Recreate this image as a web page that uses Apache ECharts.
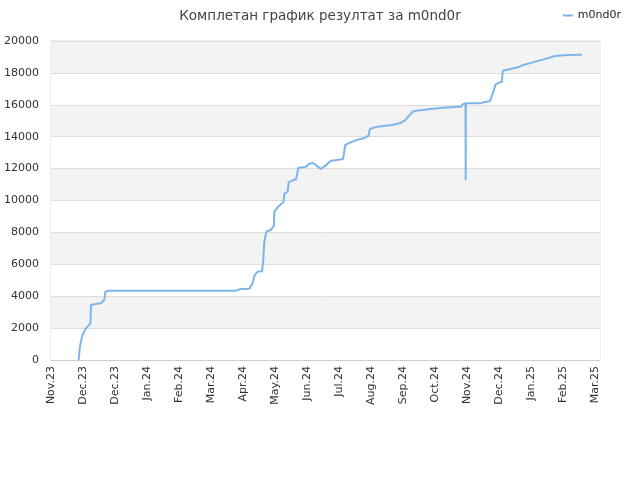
<!DOCTYPE html>
<html>
<head>
<meta charset="utf-8">
<script src="https://cdn.jsdelivr.net/npm/echarts@6/dist/echarts.min.js"></script>
<style>html,body{margin:0;padding:0;background:#fff}#c{width:640px;height:480px}</style>
</head>
<body>
<div id="c"></div>
<script>
var seriesName = 'm0nd0r';
var titleText = 'Комплетан график резултат за m0nd0r';
var monthNames = ['Jan','Feb','Mar','Apr','May','Jun','Jul','Aug','Sep','Oct','Nov','Dec'];
var axisStart = '2023-11-01';
var dates = [
 '2023-11-27','2023-11-28','2023-11-30','2023-12-02','2023-12-04','2023-12-08','2023-12-08 12:00',
 '2023-12-18','2023-12-21','2023-12-22','2023-12-25','2024-04-22','2024-04-27','2024-05-05',
 '2024-05-08','2024-05-10','2024-05-13','2024-05-17','2024-05-18','2024-05-19','2024-05-21','2024-05-25',
 '2024-05-28','2024-05-28 12:00','2024-06-01','2024-06-06','2024-06-07','2024-06-10','2024-06-11','2024-06-18',
 '2024-06-20','2024-06-27','2024-06-30','2024-07-04','2024-07-11','2024-07-15','2024-07-20','2024-08-01',
 '2024-08-03','2024-08-08','2024-08-14','2024-08-20','2024-08-25','2024-08-26','2024-09-02','2024-09-16',
 '2024-09-24','2024-09-28','2024-10-05','2024-10-08','2024-10-15','2024-10-22','2024-11-03','2024-11-14',
 '2024-11-20','2024-11-21','2024-11-23 20:00','2024-11-24','2024-11-24 04:00','2024-12-08','2024-12-10','2024-12-17',
 '2024-12-18','2024-12-20','2024-12-22','2024-12-25','2024-12-28','2024-12-28 12:00','2024-12-29','2025-01-05',
 '2025-01-12','2025-01-17','2025-01-26','2025-02-05','2025-02-16','2025-02-28','2025-03-13'
];
var scores = [
 0,800,1450,1770,2000,2300,3450,
 3570,3760,4280,4340,4340,4450,4460,
 4800,5300,5550,5570,6150,7350,8050,8150,
 8400,9300,9600,9900,10450,10550,11150,11350,
 12050,12100,12300,12350,11980,12150,12480,12600,
 13480,13650,13800,13900,14060,14480,14630,14730,
 14860,15020,15550,15630,15680,15740,15810,15860,
 15890,16030,16090,11280,16090,16090,16150,16240,
 16470,16820,17280,17380,17450,17970,18140,18240,
 18350,18500,18660,18850,19060,19120,19140
];

function toMs(s){
  var p = s.split(' ');
  var d = p[0].split('-').map(Number);
  var h = 0, m = 0;
  if (p[1]) { var t = p[1].split(':').map(Number); h = t[0]; m = t[1]; }
  return Date.UTC(d[0], d[1]-1, d[2], h, m);
}
var startMs = toMs(axisStart);
function dayOf(s){ return (toMs(s) - startMs) / 86400000; }
var data = dates.map(function(d, i){ return [dayOf(d), scores[i]]; });

var chart = echarts.init(document.getElementById('c'), null, {renderer:'canvas'});
var font = 'DejaVu Sans';
chart.setOption({
  animation: false,
  backgroundColor: '#fff',
  title: {
    text: titleText, left: 'center', top: 4,
    textStyle: {fontFamily: font, fontSize: 13.5, fontWeight: 'normal', color: '#444'}
  },
  legend: {
    data: [seriesName], right: 14, top: 5,
    icon: 'rect', itemWidth: 10, itemHeight: 2, itemGap: 6,
    textStyle: {fontFamily: font, fontSize: 11, color: '#222'}
  },
  grid: {
    left: 51, right: 40, top: 41, bottom: 120,
    containLabel: false, outerBoundsMode: 'none',
    show: true, borderColor: '#ddd', borderWidth: 1, backgroundColor: 'transparent'
  },
  xAxis: {
    type: 'value', min: 0, max: 515, interval: 30,
    axisLine: {show: true, lineStyle: {color: '#ccc'}},
    axisTick: {show: false},
    splitLine: {show: false},
    axisLabel: {
      rotate: 90, fontFamily: font, fontSize: 11, color: '#333', margin: 6,
      formatter: function(v){
        var dt = new Date(startMs + v * 86400000);
        return monthNames[dt.getUTCMonth()] + '.' + String(dt.getUTCFullYear()).slice(2);
      }
    }
  },
  yAxis: {
    type: 'value', min: 0, max: 20000, interval: 2000,
    axisLine: {show: false}, axisTick: {show: false},
    splitLine: {show: true, lineStyle: {color: '#ddd'}},
    splitArea: {show: true, areaStyle: {color: ['#ffffff', '#f3f3f3']}},
    axisLabel: {fontFamily: font, fontSize: 11, color: '#333', margin: 12,
      formatter: function(v){ return String(v); }}
  },
  series: [{
    name: seriesName, type: 'line', data: data,
    showSymbol: false, symbol: 'none',
    lineStyle: {color: '#7cb5ec', width: 2},
    itemStyle: {color: '#7cb5ec'}
  }]
});
</script>
</body>
</html>
